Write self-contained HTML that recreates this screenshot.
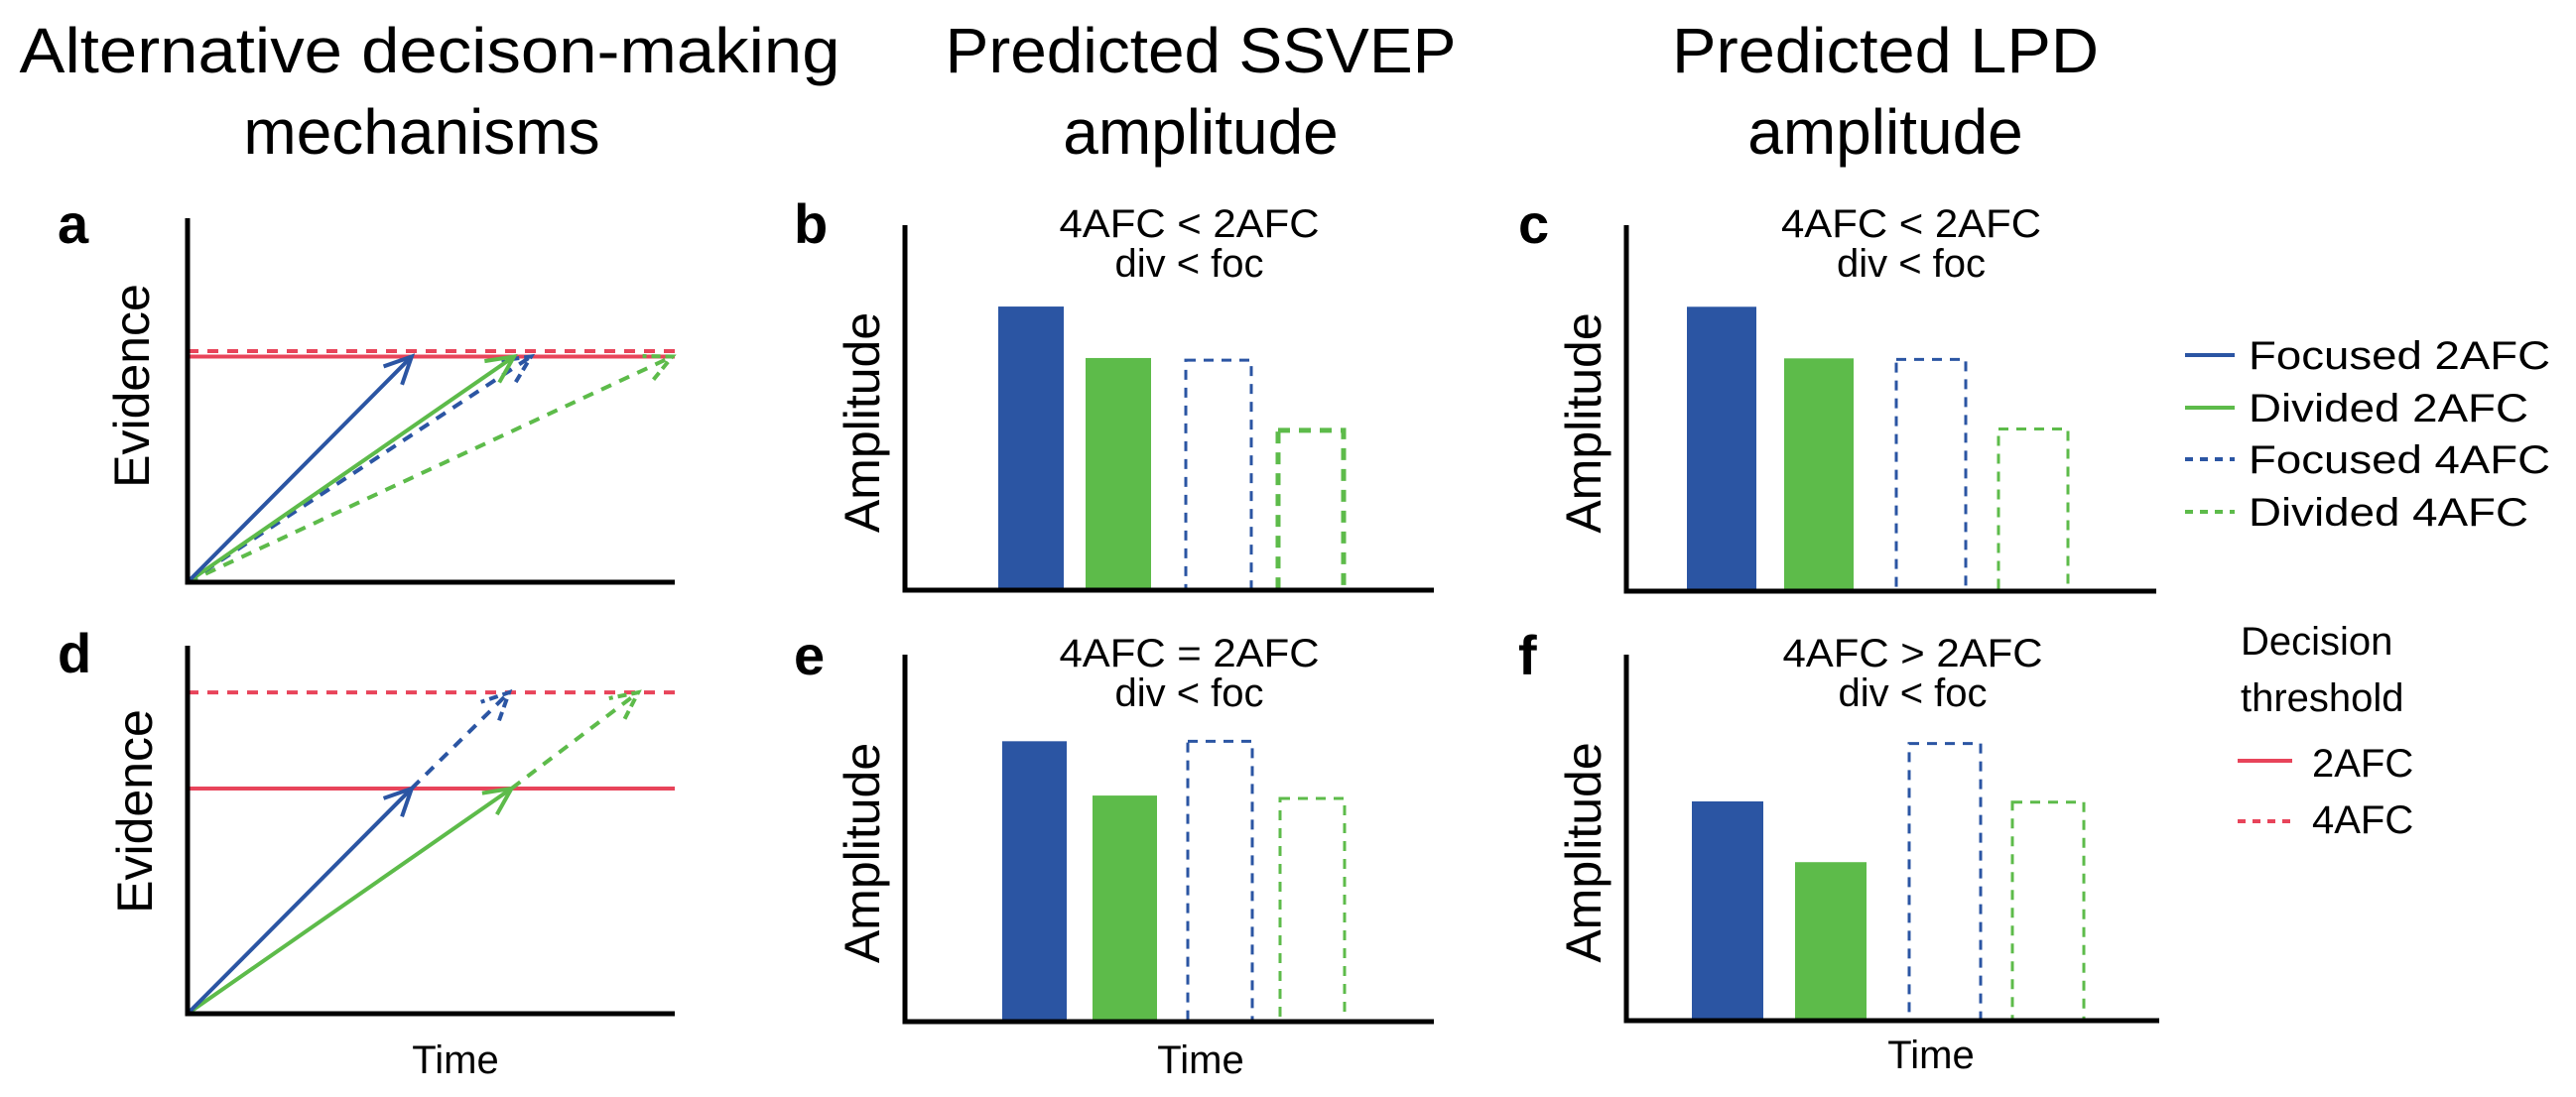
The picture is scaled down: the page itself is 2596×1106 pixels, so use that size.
<!DOCTYPE html>
<html><head><meta charset="utf-8">
<style>
html,body{margin:0;padding:0;background:#fff;}
svg{display:block;font-family:"Liberation Sans",Arial,sans-serif;}
</style></head>
<body>
<svg id="fig" width="2596" height="1106" viewBox="0 0 2596 1106" xmlns="http://www.w3.org/2000/svg">
  <g font-size="64" text-anchor="middle" fill="#000">
    <text x="433" y="73" textLength="827" lengthAdjust="spacingAndGlyphs">Alternative decison-making</text>
    <text x="425" y="155">mechanisms</text>
    <text x="1210" y="73" textLength="515" lengthAdjust="spacingAndGlyphs">Predicted SSVEP</text>
    <text x="1210" y="155">amplitude</text>
    <text x="1900" y="73" textLength="430" lengthAdjust="spacingAndGlyphs">Predicted LPD</text>
    <text x="1900" y="155">amplitude</text>
  </g>
  <g id="panels"></g>
  <g font-size="40" fill="#000">
    <line x1="2202" y1="358" x2="2252" y2="358" stroke="#2b55a3" stroke-width="4"/>
    <text x="2266" y="372" textLength="304" lengthAdjust="spacingAndGlyphs">Focused 2AFC</text>
    <line x1="2202" y1="411" x2="2252" y2="411" stroke="#5dbb4a" stroke-width="4"/>
    <text x="2266" y="425" textLength="282" lengthAdjust="spacingAndGlyphs">Divided 2AFC</text>
    <line x1="2202" y1="463" x2="2252" y2="463" stroke="#2b55a3" stroke-width="4" stroke-dasharray="8,7"/>
    <text x="2266" y="477" textLength="304" lengthAdjust="spacingAndGlyphs">Focused 4AFC</text>
    <line x1="2202" y1="516" x2="2252" y2="516" stroke="#5dbb4a" stroke-width="4" stroke-dasharray="8,7"/>
    <text x="2266" y="530" textLength="282" lengthAdjust="spacingAndGlyphs">Divided 4AFC</text>
    <text x="2258" y="660">Decision</text>
    <text x="2258" y="717">threshold</text>
    <line x1="2255" y1="767" x2="2310" y2="767" stroke="#e8445a" stroke-width="4"/>
    <text x="2330" y="783">2AFC</text>
    <line x1="2255" y1="828" x2="2310" y2="828" stroke="#e8445a" stroke-width="4" stroke-dasharray="8,7"/>
    <text x="2330" y="840">4AFC</text>
  </g>
</svg>
<script>
// ---- data ----
const conditions = ["Focused 2AFC", "Divided 2AFC", "Focused 4AFC", "Divided 4AFC"];
// Panel a: thresholds (evidence, 0-1) and times to reach them (0-1)
const thresholdsA = [0.62, 0.635];          // 2AFC, 4AFC
const timesA = [0.46, 0.67, 0.705, 0.995];  // per condition
// Panel d
const thresholdsD = [0.612, 0.873];
const timesD2 = [0.46, 0.665];              // focused, divided to 2AFC threshold
const timesD4 = [0.66, 0.925];              // focused, divided to 4AFC threshold
// Bar amplitudes (0-1)
const ampB = [0.777, 0.636, 0.63, 0.438];
const ampC = [0.777, 0.636, 0.633, 0.443];
const ampE = [0.764, 0.616, 0.764, 0.608];
const ampF = [0.599, 0.433, 0.757, 0.597];

const NS = "http://www.w3.org/2000/svg";
const BLUE = "#2b55a3", GREEN = "#5dbb4a", RED = "#e8445a";
const colors = [BLUE, GREEN, BLUE, GREEN];
const dashedC = [false, false, true, true];
const root = document.getElementById("panels");

function mk(tag, attrs, parent) {
  const e = document.createElementNS(NS, tag);
  for (const k in attrs) e.setAttribute(k, attrs[k]);
  (parent || root).appendChild(e);
  return e;
}
function txt(parent, x, y, s, size, extra) {
  const t = mk("text", Object.assign({x: x, y: y, "font-size": size, fill: "#000"}, extra || {}), parent);
  t.textContent = s;
  return t;
}

function axes(g, x0, y0, x1, y1) {
  const a = mk("path", {d: `M${x0},${y1} L${x0},${y0} L${x1},${y0}`, fill: "none", stroke: "#000", "stroke-width": 5}, g);
  
  
}

function arrow(g, xa, ya, xb, yb, color, dashed, head, name) {
  const l = mk("line", {x1: xa, y1: ya, x2: xb, y2: yb, stroke: color, "stroke-width": 4, "stroke-dasharray": dashed ? "11,9" : "none"}, g);
  
  
  if (head) {
    const ang = Math.atan2(yb - ya, xb - xa), L = 30, s = 0.45;
    const p1x = xb - L * Math.cos(ang - s), p1y = yb - L * Math.sin(ang - s);
    const p2x = xb - L * Math.cos(ang + s), p2y = yb - L * Math.sin(ang + s);
    const h = mk("path", {d: `M${p1x},${p1y} L${xb},${yb} L${p2x},${p2y}`, fill: "none", stroke: color, "stroke-width": 4, "stroke-dasharray": dashed ? "9,5" : "none"}, g);
    
    
  }
}

function evidencePanel(cfg) {
  const g = mk("g", {});
  
  
  const X = t => cfg.x0 + t * (cfg.x1 - cfg.x0);
  const Y = v => cfg.y0 - v * (cfg.y0 - cfg.top);
  txt(g, cfg.lx, cfg.ly, cfg.letter, 56, {"font-weight": "bold"});
  const ev = txt(g, 0, 0, "Evidence", 50, {"text-anchor": "middle", transform: `translate(${cfg.ex},${cfg.ey}) rotate(-90)`});
  
  
  cfg.thresholds.forEach((th, i) => {
    const l = mk("line", {x1: X(0), y1: Y(th), x2: X(1), y2: Y(th), stroke: RED, "stroke-width": 4, "stroke-dasharray": i ? "11,9" : "none"}, g);
    
    
  });
  cfg.draw(g, X, Y);
  axes(g, cfg.x0, cfg.y0, cfg.x1, cfg.top);
  if (cfg.time) {
    const t = txt(g, cfg.time[0], cfg.time[1], "Time", 40, {"text-anchor": "middle"});
    
    
  }
}

evidencePanel({name: "panel-a", letter: "a", lx: 58, ly: 245, ex: 150, ey: 389,
  x0: 189, y0: 587, x1: 680, top: 220, thresholds: thresholdsA,
  draw: (g, X, Y) => {
    // draw back-to-front: dashed first
    [3, 2, 1, 0].forEach(i => {
      const th = i < 2 ? thresholdsA[0] : thresholdsA[0];
      arrow(g, X(0), Y(0), X(timesA[i]), Y(th), colors[i], dashedC[i], true, "arrow-" + conditions[i].toLowerCase().replace(" ", "-"));
    });
  }});

evidencePanel({name: "panel-d", letter: "d", lx: 58, ly: 678, ex: 153, ey: 818,
  x0: 189, y0: 1022, x1: 680, top: 651, thresholds: thresholdsD, time: [459, 1082],
  draw: (g, X, Y) => {
    arrow(g, X(timesD2[1]), Y(thresholdsD[0]), X(timesD4[1]), Y(thresholdsD[1]), GREEN, true, true, "arrow-divided-4afc");
    arrow(g, X(timesD2[0]), Y(thresholdsD[0]), X(timesD4[0]), Y(thresholdsD[1]), BLUE, true, true, "arrow-focused-4afc");
    arrow(g, X(0), Y(0), X(timesD2[1]), Y(thresholdsD[0]), GREEN, false, true, "arrow-divided-2afc");
    arrow(g, X(0), Y(0), X(timesD2[0]), Y(thresholdsD[0]), BLUE, false, true, "arrow-focused-2afc");
  }});

function barPanel(cfg) {
  const g = mk("g", {});
  
  
  const Y = v => cfg.y0 - v * (cfg.y0 - cfg.top);
  txt(g, cfg.lx, cfg.ly, cfg.letter, 56, {"font-weight": "bold"});
  const am = txt(g, 0, 0, "Amplitude", 50, {"text-anchor": "middle", transform: `translate(${cfg.x0 - 26},${(cfg.y0 + cfg.top) / 2 + 15}) rotate(-90)`});
  
  
  const cx = (cfg.x0 + cfg.x1) / 2 + 20;
  const t1 = txt(g, cx, cfg.top + 12, cfg.cmp, 40, {"text-anchor": "middle", textLength: 262, lengthAdjust: "spacingAndGlyphs"});
  
  
  const t2 = txt(g, cx, cfg.top + 52, "div < foc", 40, {"text-anchor": "middle"});
  
  
  cfg.vals.forEach((v, i) => {
    const x = cfg.barX[i], w = cfg.barW;
    const r = mk("rect", dashedC[i]
      ? {x: x, y: Y(v), width: w, height: Y(0) - Y(v), fill: "none", stroke: colors[i], "stroke-width": cfg.thick && i === 3 ? 5 : 3, "stroke-dasharray": cfg.thick && i === 3 ? "12,9" : "10,8"}
      : {x: x, y: Y(v), width: w, height: Y(0) - Y(v), fill: colors[i]}, g);
    
    
  });
  axes(g, cfg.x0, cfg.y0, cfg.x1, cfg.top);
  if (cfg.time) {
    const t = txt(g, cfg.time[0], cfg.time[1], "Time", 40, {"text-anchor": "middle"});
    
    
  }
}

barPanel({name: "panel-b", letter: "b", lx: 800, ly: 245, x0: 912, y0: 595, x1: 1445, top: 227, vals: ampB, cmp: "4AFC < 2AFC",
  barX: [1006, 1094, 1195, 1288], barW: 66, thick: true});
barPanel({name: "panel-e", letter: "e", lx: 800, ly: 680, x0: 912, y0: 1030, x1: 1445, top: 660, vals: ampE, cmp: "4AFC = 2AFC",
  barX: [1010, 1101, 1197, 1290], barW: 65, time: [1210, 1082]});
barPanel({name: "panel-c", letter: "c", lx: 1530, ly: 245, x0: 1639, y0: 596, x1: 2173, top: 227, vals: ampC, cmp: "4AFC < 2AFC",
  barX: [1700, 1798, 1911, 2014], barW: 70});
barPanel({name: "panel-f", letter: "f", lx: 1530, ly: 680, x0: 1639, y0: 1029, x1: 2176, top: 660, vals: ampF, cmp: "4AFC > 2AFC",
  barX: [1705, 1809, 1924, 2028], barW: 72, time: [1946, 1077]});
</script>
</body></html>
